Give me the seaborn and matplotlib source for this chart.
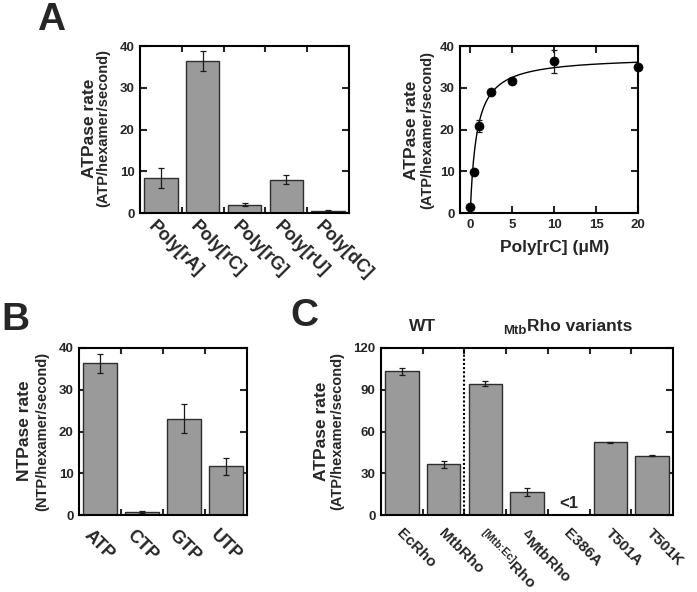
import matplotlib
matplotlib.use("Agg")
import matplotlib.pyplot as plt
from matplotlib.transforms import ScaledTranslation
import seaborn as sns
import numpy as np
import pandas as pd

# ---------------- data ----------------
poly_cats = ["Poly[rA]", "Poly[rC]", "Poly[rG]", "Poly[rU]", "Poly[dC]"]
poly_vals = [8.4, 36.3, 2.0, 8.0, 0.5]
poly_errs = [2.4, 2.4, 0.4, 1.1, 0.2]

conc_x = [0, 0.4, 1, 2.5, 5, 10, 20]
conc_y = [1.4, 9.8, 20.8, 29.0, 31.6, 36.3, 34.9]
conc_err = [0.3, 0.4, 1.4, 0.5, 0.5, 2.7, 0.5]
fit_v0, fit_vmax, fit_km = 1.3, 36.2, 0.8

ntp_cats = ["ATP", "CTP", "GTP", "UTP"]
ntp_vals = [36.3, 0.7, 23.1, 11.7]
ntp_errs = [2.3, 0.2, 3.4, 2.0]

var_cats = ["EcRho", "MtbRho", "$^{[Mtb\\!:\\!Ec]}$Rho", "$^{\\Delta}$MtbRho",
            "E386A", "T501A", "T501K"]
var_vals = [103.2, 36.4, 94.4, 16.8, 0.3, 52.4, 42.7]
var_errs = [2.6, 2.4, 2.0, 2.9, 0.0, 0.4, 0.4]

# ---------------- style ----------------
sns.set_style("ticks")
plt.rcParams["font.family"] = ["Liberation Sans", "DejaVu Sans"]
plt.rcParams["font.weight"] = "bold"
plt.rcParams["mathtext.fontset"] = "custom"
plt.rcParams["mathtext.rm"] = "Liberation Sans:bold"
plt.rcParams["mathtext.bf"] = "Liberation Sans:bold"
plt.rcParams["mathtext.it"] = "Liberation Sans:bold"
plt.rcParams["mathtext.default"] = "rm"

W, H = 697, 592
fig = plt.figure(figsize=(W / 100, H / 100), dpi=100)

def add_ax(left, top, right, bottom):
    return fig.add_axes([left / W, 1 - bottom / H, (right - left) / W, (bottom - top) / H])

def ftext(x, y, s, **kw):
    fig.text(x / W, 1 - y / H, s, **kw)

BAR_COLOR = "#9a9a9a"
EDGE = "#2e2e2e"

def style_spines(ax):
    for sp in ax.spines.values():
        sp.set_visible(True)
        sp.set_linewidth(1.5)
        sp.set_color("black")

def bar_panel(ax, cats, vals, errs, ymax, yticks, lab_size, lab_pad, lab_shift):
    df = pd.DataFrame({"cat": cats, "val": vals})
    sns.barplot(data=df, x="cat", y="val", color=BAR_COLOR, saturation=1,
                edgecolor=EDGE, linewidth=1.0, width=0.8, errorbar=None, ax=ax)
    ax.errorbar(np.arange(len(cats)), vals, yerr=errs, fmt="none",
                ecolor="#1a1a1a", elinewidth=0.9, capsize=2.5, capthick=0.9)
    n = len(cats)
    ax.set_xlim(-0.5, n - 0.5)
    ax.set_ylim(0, ymax)
    ax.set_yticks(yticks)
    ax.set_xlabel("")
    ax.set_ylabel("")
    ax.set_xticks(np.arange(n))
    ax.set_xticklabels(cats, rotation=-45, ha="left", va="top",
                       rotation_mode="anchor", fontsize=lab_size, fontweight="bold")
    ax.set_xticks(np.arange(0.5, n - 0.5), minor=True)
    ax.tick_params(axis="x", which="major", length=0, pad=lab_pad)
    ax.tick_params(axis="x", which="minor", direction="in", length=4, width=1.5,
                   top=True, bottom=True)
    ax.tick_params(axis="y", which="major", direction="in", length=5, width=1.5,
                   left=True, right=True, labelsize=9.5, pad=4)
    for lbl in ax.get_yticklabels():
        lbl.set_fontweight("bold")
    for lbl in ax.get_xticklabels():
        lbl.set_transform(lbl.get_transform() +
                          ScaledTranslation(lab_shift / 100, 0, fig.dpi_scale_trans))
    style_spines(ax)

# ---------------- Panel A left ----------------
axA1 = add_ax(140, 46, 349, 213)
bar_panel(axA1, poly_cats, poly_vals, poly_errs, 40, [0, 10, 20, 30, 40], 13, 3.5, -4)

# ---------------- Panel A right ----------------
axA2 = add_ax(460, 46, 638, 213)
fit_x = np.linspace(0, 20, 400)
fit_df = pd.DataFrame({"x": fit_x, "y": fit_v0 + fit_vmax * fit_x / (fit_km + fit_x)})
sns.lineplot(data=fit_df, x="x", y="y", color="black", linewidth=1.0, ax=axA2)
axA2.errorbar(conc_x, conc_y, yerr=conc_err, fmt="none", ecolor="#1a1a1a",
              elinewidth=0.9, capsize=2.5, capthick=0.9)
pts = pd.DataFrame({"x": conc_x, "y": conc_y})
sns.scatterplot(data=pts, x="x", y="y", color="black", s=42, edgecolor="black",
                zorder=5, clip_on=False, ax=axA2)
axA2.set_xlim(-1.25, 20)
axA2.set_ylim(0, 40)
axA2.set_xticks([0, 5, 10, 15, 20])
axA2.set_yticks([0, 10, 20, 30, 40])
axA2.set_xlabel("")
axA2.set_ylabel("")
axA2.tick_params(axis="both", direction="in", length=5, width=1.5, top=True,
                 right=True, labelsize=9.5, pad=4)
for lbl in axA2.get_xticklabels() + axA2.get_yticklabels():
    lbl.set_fontweight("bold")
style_spines(axA2)
ftext(555, 248, "Poly[rC] (μM)", ha="center", va="center", fontsize=12.5, fontweight="bold")

# ---------------- Panel B ----------------
axB = add_ax(79, 348, 247, 515)
bar_panel(axB, ntp_cats, ntp_vals, ntp_errs, 40, [0, 10, 20, 30, 40], 13, 8.5, -7)

# ---------------- Panel C ----------------
axC = add_ax(381, 348, 673, 515)
bar_panel(axC, var_cats, var_vals, var_errs, 120, [0, 30, 60, 90, 120], 11, 8, 2)
axC.axvline(1.5, color="black", linestyle=(0, (1.0, 1.0)), linewidth=1.5)
axC.text(4, 8.5, "<1", ha="center", va="center", fontsize=12, fontweight="bold")
ftext(423, 331, "WT", ha="center", va="baseline", fontsize=12.5, fontweight="bold")
ftext(527, 334, "Mtb", ha="right", va="baseline", fontsize=9.5, fontweight="bold")
ftext(527, 331, "Rho variants", ha="left", va="baseline", fontsize=12.5, fontweight="bold")

# ---------------- y labels ----------------
def ylab(x1, x2, yc, big, small):
    ftext(x1, yc, big, rotation=90, ha="center", va="center", fontsize=12.5, fontweight="bold")
    ftext(x2, yc, small, rotation=90, ha="center", va="center", fontsize=10.5, fontweight="bold")

ylab(90, 103, 128, "ATPase rate", "(ATP/hexamer/second)")
ylab(412, 427, 130, "ATPase rate", "(ATP/hexamer/second)")
ylab(25, 42, 431, "NTPase rate", "(NTP/hexamer/second)")
ylab(322, 337, 431, "ATPase rate", "(ATP/hexamer/second)")

# ---------------- panel letters ----------------
ftext(51, 20, "A", ha="center", va="center", fontsize=28, fontweight="bold")
ftext(15, 320, "B", ha="center", va="center", fontsize=28, fontweight="bold")
ftext(304, 316, "C", ha="center", va="center", fontsize=28, fontweight="bold")

fig.savefig("out.png", dpi=100)
